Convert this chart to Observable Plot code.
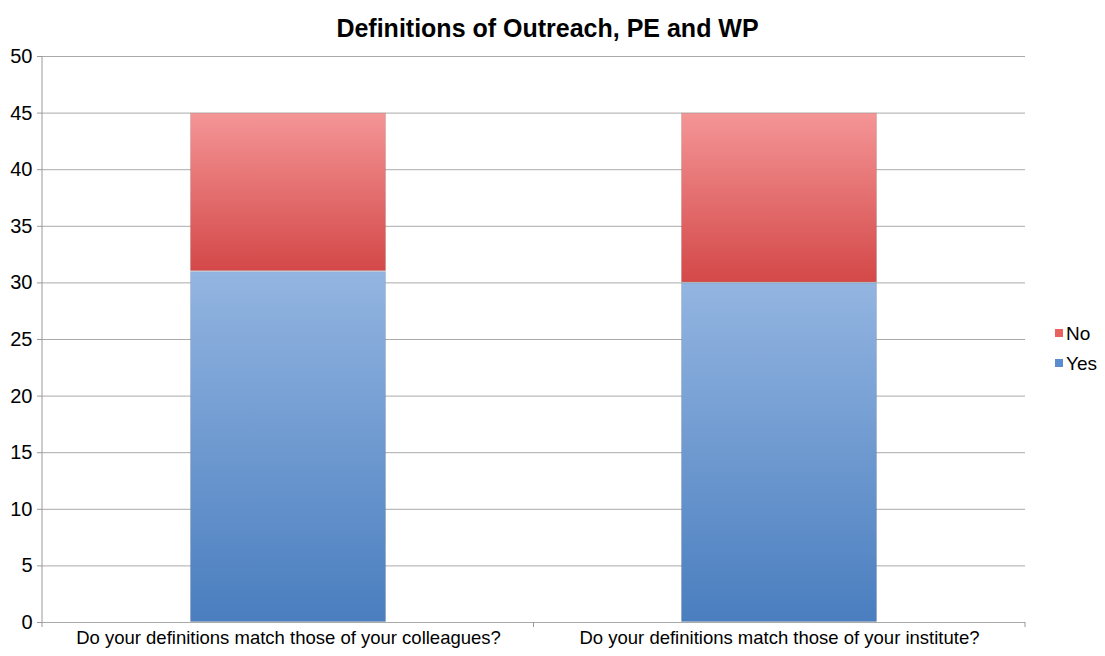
<!DOCTYPE html>
<html><head><meta charset="utf-8">
<script src="https://cdn.jsdelivr.net/npm/d3@7"></script>
<script src="https://cdn.jsdelivr.net/npm/@observablehq/plot@0.6"></script>
<style>body{margin:0;background:#fff;} svg{font-family:"Liberation Sans",Arial,sans-serif;}</style>
</head><body><div id="chart"></div>
<script>
const chartTitle = "Definitions of Outreach, PE and WP";
const categories = [
  "Do your definitions match those of your colleagues?",
  "Do your definitions match those of your institute?"
];
const seriesNames = ["Yes", "No"];
const yesValues = [31, 30];
const noValues = [14, 15];
const yTicks = [0, 5, 10, 15, 20, 25, 30, 35, 40, 45, 50];
// [bottom colour, top colour] of each segment gradient
const seriesGradients = { Yes: ["#4a7ebf", "#93b5e1"], No: ["#d44848", "#f49596"] };
const legendSwatch = { Yes: "#5a8dcf", No: "#e86060" };

const data = categories.flatMap((c, i) => [
  { category: c, series: "Yes", value: yesValues[i] },
  { category: c, series: "No", value: noValues[i] }
]);

function frameLines(index, scales, values, dim) {
  const g = d3.create("svg:g");
  const L = dim.marginLeft, R = dim.width - dim.marginRight;
  const T = dim.marginTop, B = dim.height - dim.marginBottom;
  g.append("line").attr("x1", L).attr("x2", L).attr("y1", T).attr("y2", B).attr("stroke", "#999");
  [L, (L + R) / 2, R].forEach(x => g.append("line")
    .attr("x1", x).attr("x2", x).attr("y1", B).attr("y2", B + 5).attr("stroke", "#999"));
  return g.node();
}

function legend(index, scales, values, dim) {
  const g = d3.create("svg:g").attr("text-anchor", "start");
  const x0 = dim.width - dim.marginRight + 30;
  const items = seriesNames.slice().reverse();
  items.forEach((s, i) => {
    const y = 333 + i * 30;
    g.append("rect").attr("x", x0).attr("y", y - 4).attr("width", 8).attr("height", 8).attr("fill", legendSwatch[s]);
    g.append("text").attr("x", x0 + 11).attr("y", y).attr("dy", "0.35em")
      .style("font-size", "19px").attr("fill", "black").text(s);
  });
  return g.node();
}

const svg = Plot.plot({
  width: 1105,
  height: 656,
  marginTop: 56,
  marginBottom: 34,
  marginLeft: 42,
  marginRight: 80,
  style: { fontFamily: "'Liberation Sans', Arial, sans-serif", background: "white", fontSize: "19px" },
  x: { domain: categories, paddingInner: 0.6, paddingOuter: 0.3, label: null },
  y: { domain: [0, 50], label: null },
  color: { domain: seriesNames, range: seriesNames.map(s => `url(#grad-${s})`) },
  marks: [
    Plot.gridY({ ticks: yTicks, stroke: "#aaa", strokeOpacity: 1 }),
    Plot.barY(data, {
      x: "category", y: "value", fill: "series",
      stroke: "rgba(0,0,0,0.10)", strokeWidth: 1, inset: 0.5
    }),
    frameLines,
    Plot.axisY({ ticks: yTicks, tickSize: 5, tickPadding: 5, fontSize: 20, stroke: "#999", fill: "black", label: null }),
    Plot.axisX({ tickSize: 0, tickPadding: 8, fontSize: 18.5, fill: "black", label: null }),
    Plot.text([chartTitle], { frameAnchor: "top", lineAnchor: "middle", dy: -28, dx: 13.5, fontSize: 25, fontWeight: "bold", fill: "black" }),
    legend
  ]
});

const defs = d3.select(svg).insert("defs", ":first-child");
seriesNames.forEach(s => {
  const grad = defs.append("linearGradient").attr("id", `grad-${s}`)
    .attr("x1", 0).attr("y1", 1).attr("x2", 0).attr("y2", 0);
  grad.append("stop").attr("offset", "0%").attr("stop-color", seriesGradients[s][0]);
  grad.append("stop").attr("offset", "100%").attr("stop-color", seriesGradients[s][1]);
});

document.getElementById("chart").appendChild(svg);
</script>
</body></html>
